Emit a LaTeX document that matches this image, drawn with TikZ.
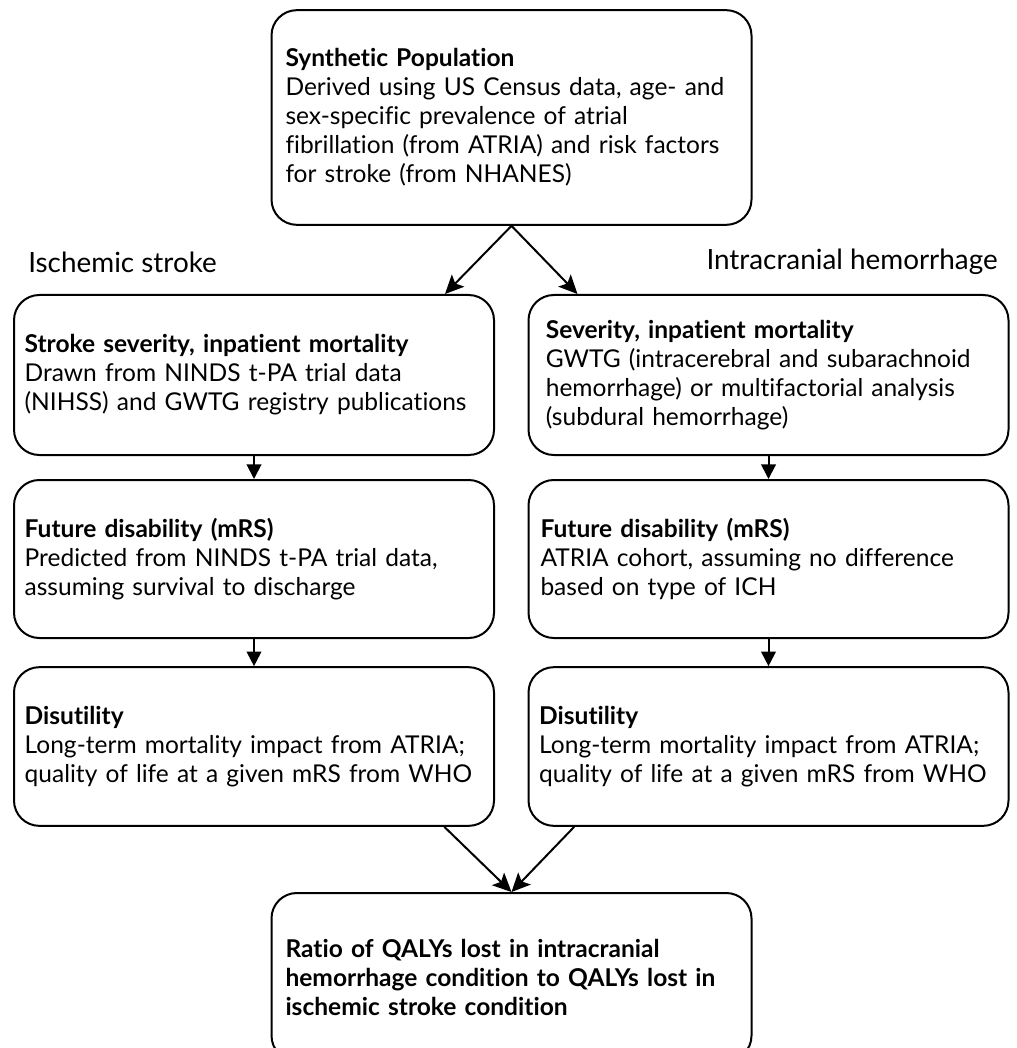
\documentclass[tikz,border=0pt]{standalone}
\usepackage{fontspec}
\setmainfont[Ligatures=NoCommon]{Lato}
\usetikzlibrary{arrows.meta}

\begin{document}
\begin{tikzpicture}[x=0.75pt, y=-0.75pt,
  box/.style={draw, line width=1.5pt, rounded corners=19pt, minimum width=360pt,
    text width=344pt, inner xsep=8pt, align=left,
    font=\fontsize{18.4}{21.75}\selectfont},
  arr/.style={-{Stealth[length=14pt, width=13pt, inset=3pt]}, line width=1.5pt},
  varr/.style={-{Triangle[length=11pt, width=11pt]}, line width=1.5pt},
  lbl/.style={font=\fontsize{20.9}{24}\selectfont, inner sep=0pt}]
  \useasboundingbox (0,0) rectangle (1016,1048);
  % --- Population ---
  \node[box, minimum height=161pt, inner xsep=10.5pt, text width=339pt] (pop) at (511.5,117.5)
    {\textbf{Synthetic Population}\\
     Derived using US Census data, age- and\\
     sex-specific prevalence of atrial\\
     fibrillation (from ATRIA) and risk factors\\
     for stroke (from NHANES)};
  % --- Branch labels ---
  \node[lbl, anchor=west] (islbl) at (28,262) {Ischemic stroke};
  \node[lbl, anchor=east] (ichlbl) at (998,262) {Intracranial hemorrhage};
  % --- Ischemic stroke column ---
  \node[box, minimum height=120pt] (isch1) at (254,375)
    {\textbf{Stroke severity, inpatient mortality}\\
     Drawn from NINDS t-PA trial data\\
     (NIHSS) and GWTG registry publications};
  \node[box, minimum height=118.5pt] (isch2) at (254,559)
    {\textbf{Future disability (mRS)}\\
     Predicted from NINDS t-PA trial data,\\
     assuming survival to discharge};
  \node[box, minimum height=119pt] (isch3) at (254,746.5)
    {\textbf{Disutility}\\
     Long-term mortality impact from ATRIA;\\
     quality of life at a given mRS from WHO};
  % --- Hemorrhage column ---
  \node[box, minimum height=120pt, inner xsep=13pt, text width=334pt] (ich1) at (768.5,375)
    {\textbf{Severity, inpatient mortality}\\
     GWTG (intracerebral and subarachnoid\\
     hemorrhage) or multifactorial analysis\\
     (subdural hemorrhage)};
  \node[box, minimum height=118.5pt, inner xsep=9pt, text width=342pt] (ich2) at (768.5,559)
    {\textbf{Future disability (mRS)}\\
     ATRIA cohort, assuming no difference\\
     based on type of ICH};
  \node[box, minimum height=119pt] (ich3) at (768.5,746.5)
    {\textbf{Disutility}\\
     Long-term mortality impact from ATRIA;\\
     quality of life at a given mRS from WHO};
  % --- Outcome ---
  \node[box, minimum height=126pt, inner xsep=10.5pt, text width=339pt] (ratio) at (511.5,977)
    {\textbf{Ratio of QALYs lost in intracranial}\\
     \textbf{hemorrhage condition to QALYs lost in}\\
     \textbf{ischemic stroke condition}};
  % --- Connectors ---
  \draw[arr] (pop.south) -- ([xshift=-37.5pt]isch1.north east);
  \draw[arr] (pop.south) -- ([xshift=37.5pt]ich1.north west);
  \draw[varr] (isch1) -- (isch2);
  \draw[varr] (isch2) -- (isch3);
  \draw[varr] (ich1) -- (ich2);
  \draw[varr] (ich2) -- (ich3);
  \draw[arr] ([xshift=-38pt]isch3.south east) -- (ratio.north);
  \draw[arr] ([xshift=35pt]ich3.south west) -- (ratio.north);
\end{tikzpicture}
\end{document}
